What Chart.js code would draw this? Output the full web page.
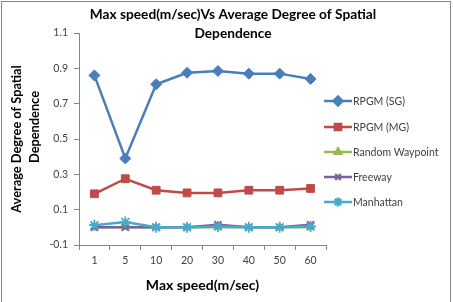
<!DOCTYPE html>
<html><head><meta charset="utf-8">
<script src="https://cdn.jsdelivr.net/npm/chart.js@4/dist/chart.umd.min.js"></script>
<style>html,body{margin:0;padding:0;background:#fff;}canvas{display:block;}</style>
</head><body>
<canvas id="c" width="453" height="302"></canvas>
<script>
const categories = ['1', '5', '10', '20', '30', '40', '50', '60'];
const rpgmSG = [0.86, 0.39, 0.81, 0.875, 0.885, 0.87, 0.87, 0.84];
const rpgmMG = [0.19, 0.275, 0.21, 0.195, 0.195, 0.21, 0.21, 0.22];
const randomWaypoint = [0.0, 0.0, 0.0, 0.0, 0.0, 0.0, 0.0, 0.0];
const freeway = [0.0, 0.0, 0.0, 0.0, 0.015, 0.0, 0.0, 0.015];
const manhattan = [0.012, 0.03, 0.0, 0.0, 0.005, 0.0, 0.0, 0.005];
const yTicks = [-0.1, 0.1, 0.3, 0.5, 0.7, 0.9, 1.1];
const seriesNames = ['RPGM (SG)', 'RPGM (MG)', 'Random Waypoint', 'Freeway', 'Manhattan'];
const chartTitle = ['Max speed(m/sec)Vs Average Degree of Spatial', 'Dependence'];
const xTitle = 'Max speed(m/sec)';
const yTitle = ['Average Degree of Spatial', 'Dependence'];

const colors = ['#4A7EBB', '#BE4B48', '#98B954', '#7D60A0', '#46AACC'];
const styles = [
  {pointStyle: 'rectRot', radius: 5.5},
  {pointStyle: 'rect', radius: 5.5},
  {pointStyle: 'triangle', radius: 4.5},
  {pointStyle: 'crossRot', radius: 5},
  {pointStyle: 'star', radius: 5.5}
];
const FONT = 'Lato, "Open Sans", sans-serif';
const series = [rpgmSG, rpgmMG, randomWaypoint, freeway, manhattan];

const datasets = series.map((d, i) => ({
  label: seriesNames[i],
  data: d,
  borderColor: colors[i],
  backgroundColor: colors[i],
  borderWidth: 2.5,
  pointStyle: styles[i].pointStyle,
  pointRadius: styles[i].radius,
  pointBorderWidth: (styles[i].pointStyle === 'crossRot' || styles[i].pointStyle === 'star') ? 1.8 : 1,
  pointBorderColor: colors[i],
  pointBackgroundColor: colors[i],
  tension: 0,
  order: 5 - i
}));

const decor = {
  id: 'decor',
  afterDraw(chart) {
    const ctx = chart.ctx;
    const area = chart.chartArea;
    ctx.save();
    // outer border
    ctx.strokeStyle = '#868686';
    ctx.lineWidth = 1;
    ctx.strokeRect(1.5, 1.5, 449, 310);
    // title
    ctx.fillStyle = '#000';
    ctx.font = 'bold 13.7px ' + FONT;
    ctx.textAlign = 'center';
    ctx.textBaseline = 'middle';
    ctx.fillText(chartTitle[0], 233, 15);
    ctx.fillText(chartTitle[1], 233, 34);
    // y title
    ctx.save();
    ctx.font = 'bold 12.8px ' + FONT;
    ctx.translate(0, (area.top + area.bottom) / 2);
    ctx.rotate(-Math.PI / 2);
    ctx.fillText(yTitle[0], 0, 17);
    ctx.fillText(yTitle[1], 12, 35);
    ctx.restore();
    // legend
    ctx.font = '10.5px ' + FONT;
    ctx.textAlign = 'left';
    const ys = [101, 127, 152, 177, 202];
    datasets.forEach((ds, i) => {
      const y = ys[i];
      ctx.strokeStyle = ds.borderColor;
      ctx.lineWidth = 2.5;
      ctx.beginPath();
      ctx.moveTo(324, y);
      ctx.lineTo(352, y);
      ctx.stroke();
      ctx.fillStyle = ds.borderColor;
      ctx.strokeStyle = ds.borderColor;
      Chart.helpers.drawPoint(ctx, {pointStyle: ds.pointStyle, radius: ds.pointRadius * 0.8, rotation: 0, borderWidth: ds.pointBorderWidth}, 338, y);
      ctx.fillStyle = '#404040';
      ctx.fillText(ds.label, 353, y + 0.5);
    });
    ctx.restore();
  }
};

new Chart(document.getElementById('c'), {
  type: 'line',
  data: {labels: categories, datasets},
  options: {
    responsive: false,
    animation: false,
    devicePixelRatio: 1,
    layout: {padding: {top: 33, right: 127, left: 0, bottom: 0}},
    plugins: {legend: {display: false}, tooltip: {enabled: false}, title: {display: false}},
    scales: {
      x: {
        offset: true,
        grid: {offset: true, drawOnChartArea: false, drawTicks: true, tickLength: 5, color: '#868686'},
        border: {color: '#868686', width: 1},
        ticks: {color: '#404040', font: {family: FONT, size: 10.5}, padding: 4, maxRotation: 0},
        title: {display: true, text: xTitle, color: '#000', font: {family: FONT, size: 14, weight: 'bold', lineHeight: 1.4}, padding: {top: 0, bottom: 7}},
        afterFit(s) { s.height = 57; }
      },
      y: {
        min: -0.1, max: 1.1,
        afterBuildTicks(s) { s.ticks = yTicks.map(v => ({value: v})); },
        grid: {drawOnChartArea: false, drawTicks: true, tickLength: 5, color: '#868686'},
        border: {color: '#868686', width: 1},
        ticks: {color: '#404040', font: {family: FONT, size: 10.5}, padding: 6, callback: v => Number(v).toFixed(1)},
        title: {display: false},
        afterFit(s) { s.width = 79; }
      }
    }
  },
  plugins: [decor]
});
</script>
</body></html>
